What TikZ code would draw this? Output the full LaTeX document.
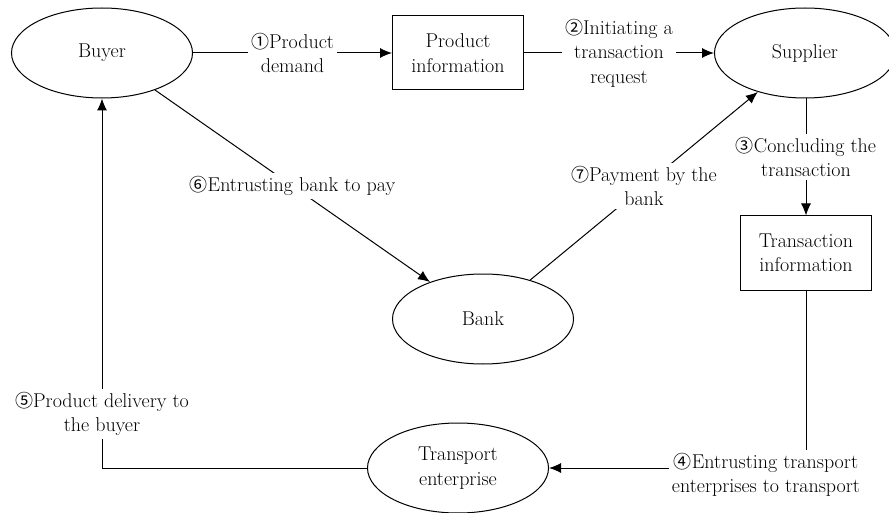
\documentclass[tikz,border=0pt]{standalone}
\usepackage{fontspec}
\newfontfamily\cfont[Scale=0.9]{Noto Sans CJK SC}
\newcommand\cn[1]{{\cfont #1}}
\usetikzlibrary{shapes.geometric,arrows.meta}
\tikzset{
  every node/.style={font=\rmfamily\fontsize{20}{24.5}\selectfont},
  ell/.style={draw, ellipse, minimum width=181pt, minimum height=90pt, inner sep=0pt, align=center, line width=1pt},
  infobox/.style={draw, rectangle, minimum width=131pt, minimum height=74pt, inner sep=0pt, align=center, line width=1pt},
  conn/.style={line width=1pt, -{Latex[length=12pt,width=10pt]}},
  lbl/.style={fill=white, inner sep=3pt, align=center}
}
\begin{document}
\begin{tikzpicture}[x=1pt,y=-1pt]
\useasboundingbox (0,0) rectangle (889,513);
\node[ell] (buyer) at (102,53) {Buyer};
\node[infobox] (pinfo) at (458,53) {Product\\information};
\node[ell] (supplier) at (805,53) {Supplier};
\node[ell] (bank) at (483,319) {Bank};
\node[infobox] (tinfo) at (806,253) {Transaction\\information};
\node[ell] (transport) at (458,468) {Transport\\enterprise};

\draw[conn] (buyer) -- node[lbl] (l1) {\cn{①}Product\\demand} (pinfo);
\draw[conn] (pinfo) -- node[lbl] (l2) {\cn{②}Initiating a\\transaction\\request} (supplier);
\draw[conn] (supplier.south -| tinfo.north) -- node[lbl] (l3) {\cn{③}Concluding the\\transaction} (tinfo.north);
\draw[conn] (tinfo.south) |- node[lbl, pos=0.5, xshift=-40pt, yshift=-7pt] (l4) {\cn{④}Entrusting transport\\enterprises to transport} (transport.east);
\draw[conn] (transport.west) -| node[lbl, pos=0.573] (l5) {\cn{⑤}Product delivery to\\the buyer} (buyer.south);
\draw[conn] (buyer) -- node[lbl] (l6) {\cn{⑥}Entrusting bank to pay} (bank);
\draw[conn] (bank) -- node[lbl] (l7) {\cn{⑦}Payment by the\\bank} (supplier);
\end{tikzpicture}
\end{document}
